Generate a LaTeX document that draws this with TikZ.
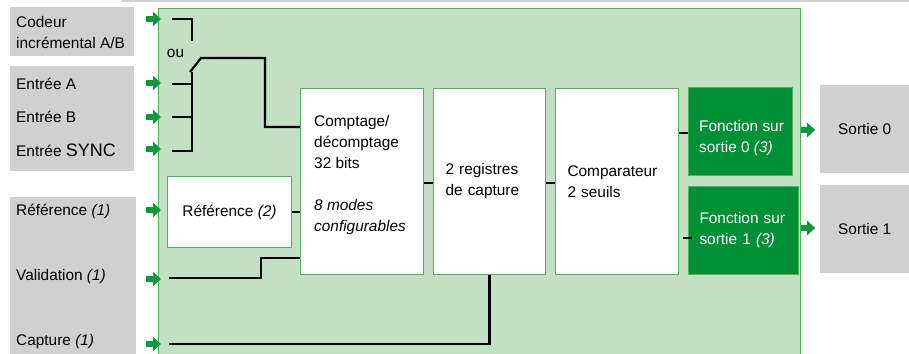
\documentclass[tikz,border=0pt]{standalone}
\usepackage{fontspec}
\setmainfont{Liberation Sans}
\usetikzlibrary{arrows.meta,positioning}
\definecolor{lightGreen}{HTML}{C3E0C5}
\definecolor{borderGreen}{HTML}{4DB45E}
\definecolor{darkGreen}{HTML}{009036}
\definecolor{arrowGreen}{HTML}{0A9A3A}
\definecolor{boxGrey}{HTML}{D0D0D0}
\tikzset{
  greyBox/.style = {fill = boxGrey, inner sep = 0pt, anchor = north west},
  block/.style = {draw = borderGreen, line width = 1pt, fill = white, inner sep = 0pt, anchor = north west},
  funcBlock/.style = {draw = borderGreen, line width = 1pt, fill = darkGreen, inner sep = 0pt, anchor = north west},
  txt/.style = {inner sep = 0pt, anchor = west, align = left},
  wire/.style = {line width = 2.2pt},
  inArrow/.style = {draw = arrowGreen, line width = 6pt, -{Triangle[length = 8pt, width = 14pt]}}
}

\begin{document}
\begin{tikzpicture}[x = 1pt, y = -1pt, font = \fontsize{15.4}{21}\selectfont]
    \clip (0,0) rectangle (909,353);
    \fill[boxGrey] (122,0) rectangle (909,2);

    \node[greyBox, minimum width = 124pt, minimum height = 49pt](codeurBox) at (10,7) {};
    \node[greyBox, minimum width = 124pt, minimum height = 105pt](entreeBox) at (10,66) {};
    \node[greyBox, minimum width = 126pt, minimum height = 170pt](signalBox) at (10,197) {};
    \node[txt](codeur) at (16,32.5) {Codeur\\incrémental A/B};
    \node[txt](entreeA) at (16,84) {Entrée A};
    \node[txt](entreeB) at (16,117) {Entrée B};
    \node[txt](entreeSync) at (16,150) {Entrée {\fontsize{18}{21}\selectfont SYNC}};
    \node[txt](reference) at (16,211) {Référence \textit{(1)}};
    \node[txt](validation) at (16,277) {Validation \textit{(1)}};
    \node[txt](capture) at (16,342) {Capture \textit{(1)}};

    \node[draw = borderGreen, fill = lightGreen, line width = 1.2pt, anchor = north west, inner sep = 0pt, minimum width = 642pt, minimum height = 360pt](module) at (158,8) {};

    \node[block, minimum width = 124pt, minimum height = 71pt](refInterne) at (167,176) {Référence \textit{(2)}};
    \node[block, minimum width = 123pt, minimum height = 186pt](comptage) at (300,88) {};
    \node[txt] at ([xshift = 14pt, yshift = 6.5pt]comptage.west) {Comptage/\\décomptage\\32 bits\\[21pt]\textit{8 modes}\\\textit{configurables}};
    \node[block, minimum width = 112pt, minimum height = 186pt, text width = 88pt, inner xsep = 12pt, align = left](registres) at (433,88) {2 registres\\de capture};
    \node[block, minimum width = 123pt, minimum height = 186pt, text width = 99pt, inner xsep = 12pt, align = left](comparateur) at (555,88) {Comparateur\\2 seuils};
    \node[funcBlock, minimum width = 104pt, minimum height = 88pt](fonction0) at (688,87) {};
    \node[txt, text = white] at ([xshift = 11pt, yshift = -7pt]fonction0.west) {Fonction sur\\sortie 0 \textit{(3)}};
    \node[funcBlock, minimum width = 104pt, minimum height = 88pt, text = white, text width = 88pt, inner xsep = 11pt, align = left](fonction1) at (688,186) {Fonction sur\\sortie 1 \textit{(3)}};

    \node[greyBox, minimum width = 89pt, minimum height = 88pt](sortie0) at (820,85) {Sortie 0};
    \node[greyBox, minimum width = 89pt, minimum height = 88pt](sortie1) at (820,185) {Sortie 1};

    \coordinate (codeurIn) at (146,19);
    \coordinate (entreeAIn) at (146,83);
    \coordinate (entreeBIn) at (146,117);
    \coordinate (syncIn) at (146,149);
    \coordinate (refIn) at (146,210);
    \coordinate (validIn) at (146,279);
    \coordinate (captureIn) at (146,344);
    \foreach \c in {codeurIn,entreeAIn,entreeBIn,syncIn,refIn,validIn,captureIn}
        \draw[inArrow] (\c) -- ([xshift = 15pt]\c);
    \draw[inArrow] (module.east |- 0,130) -- ([xshift = 14pt]module.east |- 0,130);
    \draw[inArrow] (module.east |- 0,228) -- ([xshift = 14pt]module.east |- 0,228);

    \node(ou) at (175.5,53) {ou};
    \coordinate (codeurEnd) at (192,41);
    \coordinate (switchPivot) at (190,72);
    \coordinate (switchTop) at (201,58);
    \draw[wire] (172,19) -| (codeurEnd);
    \draw[wire] (172,84) -- (192,84);
    \draw[wire] (172,117) -- (192,117);
    \draw[wire] (172,151) -| (192,72);
    \draw[wire] (switchPivot) -- (switchTop) -| (265,127) -- (comptage.west |- 0,127);

    \draw[wire] (refInterne.east) -- (comptage.west |- refInterne.east);
    \draw[wire] (169,278) -| (261,258) -- (comptage.west |- 0,258);
    \draw[wire] (169,344) -| (registres.south);
    \draw[wire] (comptage.east |- 0,183) -- (registres.west |- 0,183);
    \draw[wire] (registres.east |- 0,183) -- (comparateur.west |- 0,183);
    \draw[wire] (comparateur.east |- 0,133) -- (fonction0.west |- 0,133);
    \draw[wire] ([xshift = 4pt]comparateur.east |- 0,238) -- ([xshift = 4pt]fonction1.west |- 0,238);
\end{tikzpicture}
\end{document}
